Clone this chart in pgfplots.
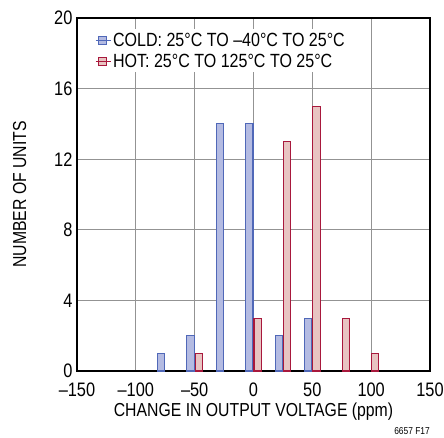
\documentclass[border=0pt]{standalone}
\usepackage{pgfplots}
\pgfplotsset{compat=1.18}
\usepackage{fontspec}
\setmainfont{Liberation Sans}[FakeStretch=0.84]
\definecolor{coldfill}{HTML}{B4BBE2}
\definecolor{coldedge}{HTML}{5068B8}
\definecolor{hotfill}{HTML}{E8C4C2}
\definecolor{hotedge}{HTML}{A8183C}
\begin{document}
\begin{tikzpicture}
\begin{axis}[
  scale only axis, width=353pt, height=353pt,
  xmin=-150, xmax=150, ymin=0, ymax=20,
  xtick={-150,-100,-50,0,50,100,150},
  xticklabels={–150,–100,–50,0,50,100,150},
  ytick={0,4,8,12,16,20},
  grid=major, major grid style={draw=gray!85, line width=0.8pt},
  axis line style={line width=1.1pt},
  tick style={draw=none},
  /pgf/number format/assume math mode=true,
  ticklabel style={font=\fontsize{19.5}{21}\selectfont},
  xticklabel style={yshift=-8pt},
  yticklabel style={xshift=-1pt},
  xlabel={CHANGE IN OUTPUT VOLTAGE (ppm)},
  ylabel={NUMBER OF UNITS},
  label style={font=\fontsize{18.8}{21}\selectfont},
  xlabel style={yshift=0pt},
  ylabel style={yshift=21pt},
  legend style={at={(0.046,0.968)}, anchor=north west, draw=none, fill=white,
    font=\fontsize{19.1}{21}\selectfont, row sep=3pt, inner sep=2pt,
    nodes={inner sep=1.5pt}},
  legend cell align=left,
  legend image code/.code={\draw[#1, line width=0.9pt] (2pt,-4pt) rectangle (10pt,4pt);
    \path (0pt,0pt) -- (15pt,0pt);},
]
\addplot[ybar, bar width=6.2, bar shift=0pt, fill=coldfill, draw=coldedge, line width=1.1pt]
  coordinates {(-78.5,1) (-53.5,2) (-28.5,14) (-3.5,14) (21.5,2) (46.5,3)};
\addlegendentry{COLD: 25°C TO –40°C TO 25°C}
\addplot[ybar, bar width=6.2, bar shift=0pt, fill=hotfill, draw=hotedge, line width=1.1pt]
  coordinates {(-46.5,1) (3.5,3) (28.5,13) (53.5,15) (78.5,3) (103.5,1)};
\addlegendentry{HOT: 25°C TO 125°C TO 25°C}
\end{axis}
\node[anchor=south east, font=\fontsize{10}{11}\selectfont, inner sep=0pt] at ([yshift=-64pt]current axis.south east) {6657 F17};
\pgfresetboundingbox
\useasboundingbox ([xshift=-77pt,yshift=-66pt]current axis.south west) rectangle ([xshift=14pt,yshift=18pt]current axis.north east);
\end{tikzpicture}
\end{document}
